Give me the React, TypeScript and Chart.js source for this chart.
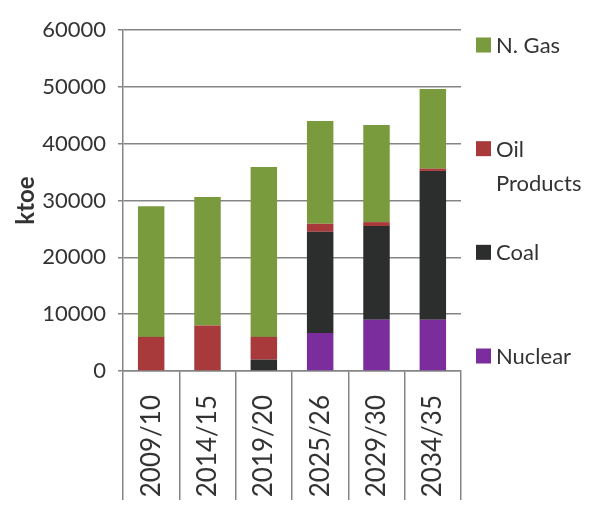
import React, { useEffect, useRef } from "react";
import { Chart, registerables } from "chart.js";

Chart.register(...registerables);

const categories = ["2009/10", "2014/15", "2019/20", "2025/26", "2029/30", "2034/35"];
const nuclear = [0, 0, 0, 6700, 9000, 9000];
const coal = [0, 0, 2000, 17800, 16500, 26200];
const oilProducts = [6000, 8000, 4000, 1400, 700, 400];
const nGas = [23000, 22600, 29900, 18100, 17100, 14000];
const yMin = 0;
const yMax = 60000;
const yStep = 10000;

const GRID = "#858585";
const TEXT = "#333333";

const sideLegend = {
  id: "sideLegend",
  afterDraw(chart: any) {
    const ctx = chart.ctx as CanvasRenderingContext2D;
    const area = chart.chartArea;
    const ds = chart.data.datasets.slice().reverse();
    const step = (area.bottom - area.top - 30) / (ds.length - 1);
    const boxX = area.right + 15;
    const textX = area.right + 35;
    const maxW = chart.width - textX - 4;
    ctx.save();
    ctx.font = "22px Lato";
    ctx.textBaseline = "alphabetic";
    ctx.textAlign = "left";
    ds.forEach((d: any, i: number) => {
      const cy = area.top + 15 + i * step;
      ctx.fillStyle = d.backgroundColor;
      ctx.fillRect(boxX, cy - 7.5, 15, 15);
      const words = String(d.label).split(" ");
      const lines: string[] = [];
      let cur = "";
      words.forEach((w) => {
        const t = cur ? cur + " " + w : w;
        if (cur && ctx.measureText(t).width > maxW) {
          lines.push(cur);
          cur = w;
        } else cur = t;
      });
      if (cur) lines.push(cur);
      ctx.fillStyle = TEXT;
      lines.forEach((ln, j) => ctx.fillText(ln, textX, cy + 8 + j * 34));
    });
    ctx.restore();
  },
};

export default function App() {
  const ref = useRef<HTMLCanvasElement | null>(null);
  useEffect(() => {
    if (!ref.current) return;
    const chart = new Chart(ref.current, {
      type: "bar",
      data: {
        labels: categories,
        datasets: [
          { label: "Nuclear", data: nuclear, backgroundColor: "#7b2d9e" },
          { label: "Coal", data: coal, backgroundColor: "#2b2e2c" },
          { label: "Oil Products", data: oilProducts, backgroundColor: "#a93a3c" },
          { label: "N. Gas", data: nGas, backgroundColor: "#7a9a3e" },
        ],
      },
      options: {
        animation: false,
        responsive: true,
        maintainAspectRatio: false,
        layout: { padding: { left: 0, top: 30, right: 145, bottom: 0 } },
        datasets: { bar: { barPercentage: 1, categoryPercentage: 0.47 } },
        plugins: { legend: { display: false }, tooltip: { enabled: false } },
        scales: {
          x: {
            stacked: true,
            grid: {
              drawOnChartArea: false,
              offset: true,
              tickLength: 129,
              color: GRID,
              lineWidth: 1.5,
            },
            border: { display: true, color: GRID, width: 1.5 },
            ticks: {
              minRotation: 90,
              maxRotation: 90,
              autoSkip: false,
              padding: -105,
              color: TEXT,
              font: { family: "Lato", size: 26 },
            },
            afterFit: (s: any) => {
              s.height = 135;
            },
          },
          y: {
            stacked: true,
            min: yMin,
            max: yMax,
            ticks: {
              stepSize: yStep,
              padding: 12,
              color: TEXT,
              font: { family: "Lato", size: 22 },
              callback: (v: any) => String(v),
            },
            grid: { color: GRID, lineWidth: 1.5, tickLength: 5 },
            border: { display: true, color: GRID, width: 1.5 },
            title: {
              display: true,
              text: "ktoe",
              color: TEXT,
              font: { family: "Lato", size: 24, weight: "bold" },
              padding: { top: 12, bottom: 4 },
            },
            afterFit: (s: any) => {
              s.width = 123;
            },
          },
        },
      },
      plugins: [sideLegend],
    });
    return () => chart.destroy();
  }, []);
  return (
    <div style={{ position: "fixed", left: 0, top: 0, width: 606, height: 506, background: "#ffffff" }}>
      <canvas ref={ref} />
    </div>
  );
}
